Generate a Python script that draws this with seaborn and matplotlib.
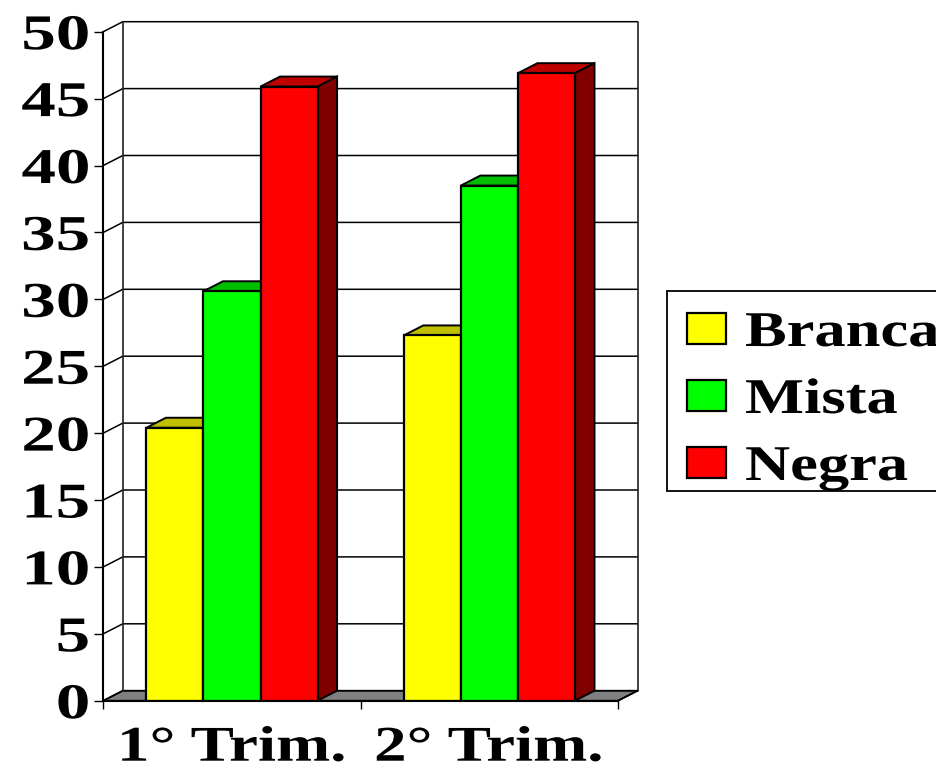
import pandas as pd
import matplotlib
matplotlib.use('Agg')
import matplotlib.pyplot as plt
import matplotlib.patheffects as pe
from matplotlib.patches import Polygon, Rectangle
from matplotlib.transforms import Affine2D
import seaborn as sns

trimestres = ['1° Trim.', '2° Trim.']
cores = ['Branca', 'Mista', 'Negra']
branca = [20.4, 27.3]
mista = [30.6, 38.5]
negra = [45.9, 46.9]
y_ticks = [0, 5, 10, 15, 20, 25, 30, 35, 40, 45, 50]
palette = {'Branca': '#FFFF00', 'Mista': '#00FF00', 'Negra': '#FF0000'}
tops = ['#BFBF00', '#00BF00', '#BF0000']
sides = ['#808000', '#008000', '#800000']


class Esticar(pe.AbstractPathEffect):
    # alarga o texto na horizontal, como no grafico original
    def __init__(self, anchor_x, s):
        super().__init__()
        self.anchor_x = anchor_x
        self.s = s

    def draw_path(self, renderer, gc, tpath, affine, rgbFace=None):
        t = Affine2D().translate(-self.anchor_x, 0).scale(self.s, 1).translate(self.anchor_x, 0)
        renderer.draw_path(gc, tpath, affine + t, rgbFace)


sns.set_theme(style='white')
plt.rcParams['font.family'] = ['Liberation Serif', 'DejaVu Serif']

df = pd.DataFrame({
    'trim': trimestres * 3,
    'cor': [c for c in cores for _ in trimestres],
    'valor': branca + mista + negra,
})

W, H = 937, 767
fig = plt.figure(figsize=(W / 100, H / 100), dpi=100)
ax = fig.add_axes([103.3 / W, (H - 700.7) / H, 514.8 / W, 669 / H])

sns.barplot(data=df, x='trim', y='valor', hue='cor', hue_order=cores, palette=palette,
            order=trimestres, width=0.665, saturation=1, edgecolor='black', linewidth=1.6,
            zorder=3, ax=ax)
handles, labels = ax.get_legend_handles_labels()
ax.get_legend().remove()
ax.set_xlim(-0.5, 1.5)
ax.set_ylim(0, 50)
ax.set_xlabel('')
ax.set_ylabel('')

# profundidade do "3D" em unidades dos eixos
dx = 19.5 / 257.4
dy = 10 / 13.38

# parede do fundo, chao e grades
x0, x1 = -0.5, 1.5
ax.add_patch(Polygon([(x0, 0), (x0 + dx, dy), (x1 + dx, dy), (x1, 0)], closed=True,
                     facecolor='#808080', edgecolor='black', lw=1.2, zorder=1, clip_on=False))
for v in y_ticks:
    ax.plot([x0, x0 + dx, x1 + dx], [v, v + dy, v + dy], color='black', lw=1.1, zorder=1, clip_on=False)
for xb in [x0 + dx, x1 + dx]:
    ax.plot([xb, xb], [dy, 50 + dy], color='#222222', lw=1.2, zorder=1, clip_on=False)
ax.plot([x1, x1 + dx], [0, dy], color='black', lw=1.2, zorder=1, clip_on=False)

# topo e lateral de cada barra
for i, cont in enumerate(ax.containers):
    for p in cont:
        xl, w, h = p.get_x(), p.get_width(), p.get_height()
        xr = xl + w
        top = [(xl, h), (xl + dx, h + dy), (xr + dx, h + dy), (xr, h)]
        side = [(xr, 0), (xr + dx, dy), (xr + dx, h + dy), (xr, h)]
        ax.add_patch(Polygon(top, closed=True, facecolor=tops[i], edgecolor='black', lw=1.4,
                             zorder=2.5, clip_on=False))
        ax.add_patch(Polygon(side, closed=True, facecolor=sides[i], edgecolor='black', lw=1.4,
                             zorder=2.5, clip_on=False))

for s in ['top', 'right']:
    ax.spines[s].set_visible(False)
for s in ['left', 'bottom']:
    ax.spines[s].set_linewidth(1.5)
    ax.spines[s].set_color('black')
    ax.spines[s].set_zorder(4)

ax.set_yticks(y_ticks)
ax.set_xticks([0, 1])
ax.set_xticks([-0.5, 0.5, 1.5], minor=True)
ax.tick_params(axis='y', left=True, length=6.5, width=1.0, color='black', pad=3)
ax.tick_params(axis='x', which='major', bottom=False, pad=12)
ax.tick_params(axis='x', which='minor', bottom=True, length=5.5, width=1.0, color='black')

for t in ax.get_yticklabels():
    t.set_fontsize(36)
    t.set_fontweight('bold')
    t.set_color('black')
    t.set_path_effects([Esticar(90, 1.38)])
for t, cx in zip(ax.get_xticklabels(), [232.5, 491]):
    t.set_fontsize(36)
    t.set_fontweight('bold')
    t.set_color('black')
    t.set_path_effects([Esticar(cx, 1.3)])

# legenda: a caixa passa da borda direita da figura
fig.add_artist(Rectangle((667 / W, (H - 491) / H), 290 / W, 200 / H, transform=fig.transFigure,
                         facecolor='white', edgecolor='black', lw=1.3))
leg = fig.legend(handles, labels, loc='upper left', bbox_to_anchor=(687 / W, (H - 311) / H),
                 frameon=False, fontsize=36, borderpad=0, borderaxespad=0,
                 handlelength=0.78, handleheight=0.58, handletextpad=0.38, labelspacing=0.42)
for t in leg.get_texts():
    t.set_fontweight('bold')
    t.set_color('black')
    t.set_path_effects([Esticar(745, 1.25)])

fig.savefig('out.png', dpi=100)
plt.close(fig)
